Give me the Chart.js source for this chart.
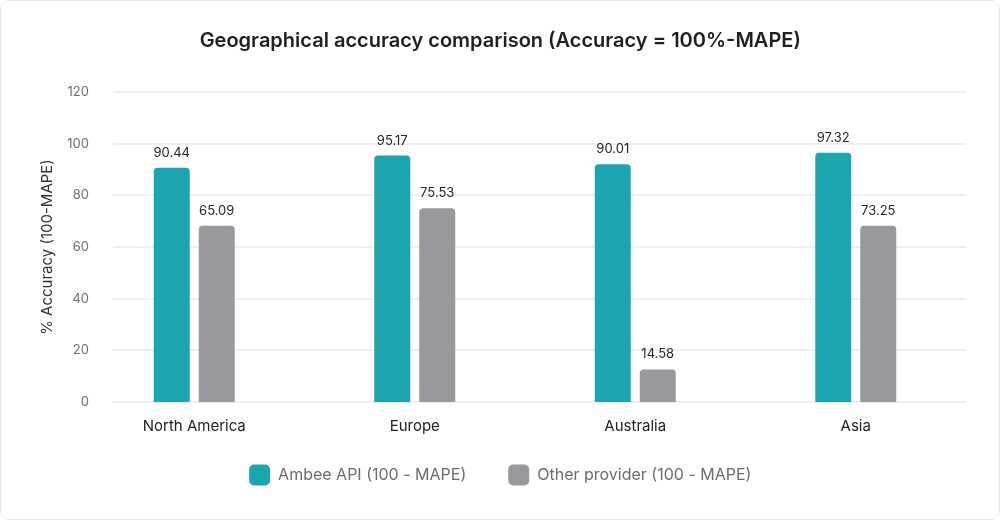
<!DOCTYPE html>
<html>
<head>
<meta charset="utf-8">
<script src="https://cdn.jsdelivr.net/npm/chart.js@4/dist/chart.umd.min.js"></script>
<style>
  html, body { margin: 0; padding: 0; background: #ffffff; }
  #card { position: relative; width: 1000px; height: 520px; box-sizing: border-box;
          border: 1px solid #e6e6e8; border-radius: 10px; background: #fff; overflow: hidden; }
  #wrap { position: absolute; left: 0; top: 0; width: 1000px; height: 520px; }
</style>
</head>
<body>
<div id="card"><div id="wrap"><canvas id="c"></canvas></div></div>
<script>
const chartTitle = 'Geographical accuracy comparison (Accuracy = 100%-MAPE)';
const yAxisTitle = '% Accuracy (100-MAPE)';
const categories = ['North America', 'Europe', 'Australia', 'Asia'];
const seriesNames = ['Ambee API (100 - MAPE)', 'Other provider (100 - MAPE)'];
// bar heights as drawn in the reference
const ambeeValues = [90.7, 95.4, 92.0, 96.5];
const otherValues = [68.2, 75.0, 12.6, 68.2];
// value labels printed above the bars
const ambeeLabels = ['90.44', '95.17', '90.01', '97.32'];
const otherLabels = ['65.09', '75.53', '14.58', '73.25'];
const yMin = 0, yMax = 120, yStep = 20;

const seriesColors = ['#1ba5ae', '#98989d'];
const valueLabels = [ambeeLabels, otherLabels];

const gridPlugin = {
  id: 'softGrid',
  beforeDatasetsDraw(chart) {
    const {ctx, chartArea, scales: {x, y}} = chart;
    ctx.save();
    ctx.strokeStyle = '#efeff1';
    ctx.lineWidth = 2;
    y.ticks.forEach(t => {
      const py = Math.round(y.getPixelForValue(t.value));
      ctx.beginPath();
      ctx.moveTo(chartArea.left + 29, py);
      ctx.lineTo(chartArea.right, py);
      ctx.stroke();
    });
    // y tick labels
    ctx.font = '13px Inter';
    ctx.fillStyle = '#6e6e73';
    ctx.textAlign = 'right';
    ctx.textBaseline = 'middle';
    y.ticks.forEach(t => {
      ctx.fillText(t.label, chartArea.left + 5, y.getPixelForValue(t.value));
    });
    // x tick labels
    ctx.font = '15px Inter';
    ctx.fillStyle = '#222225';
    ctx.textAlign = 'center';
    ctx.textBaseline = 'middle';
    chart.data.labels.forEach((lab, i) => {
      ctx.fillText(lab, x.getPixelForValue(i), chartArea.bottom + 24);
    });
    ctx.restore();
  }
};

const labelPlugin = {
  id: 'valueLabels',
  afterDatasetsDraw(chart) {
    const {ctx} = chart;
    ctx.save();
    ctx.font = '13px Inter';
    ctx.fillStyle = '#262629';
    ctx.textAlign = 'center';
    ctx.textBaseline = 'alphabetic';
    chart.data.datasets.forEach((ds, di) => {
      const meta = chart.getDatasetMeta(di);
      meta.data.forEach((bar, i) => {
        ctx.fillText(valueLabels[di][i], bar.x, bar.y - 11);
      });
    });
    ctx.restore();
  }
};

new Chart(document.getElementById('c'), {
  type: 'bar',
  data: {
    labels: categories,
    datasets: [
      { label: seriesNames[0], data: ambeeValues, backgroundColor: seriesColors[0] },
      { label: seriesNames[1], data: otherValues, backgroundColor: seriesColors[1] }
    ]
  },
  options: {
    responsive: true,
    maintainAspectRatio: false,
    animation: false,
    layout: { padding: { left: 33.5, right: 35, top: 0, bottom: 25.5 } },
    datasets: {
      bar: { barPercentage: 0.8, categoryPercentage: 0.408, borderRadius: 4, borderSkipped: 'start' }
    },
    scales: {
      x: {
        grid: { display: false },
        border: { display: false },
        ticks: { display: false },
        afterFit(scale) { scale.height = 20.5; }
      },
      y: {
        min: yMin, max: yMax,
        grid: { display: false, drawTicks: false },
        border: { display: false },
        ticks: { stepSize: yStep, display: false },
        title: { display: true, text: yAxisTitle, color: '#333336', font: { family: 'Inter', size: 15 } },
        afterFit(scale) { scale.width = 49.5; }
      }
    },
    plugins: {
      title: {
        display: true, text: chartTitle, color: '#1f1f23',
        font: { family: 'Inter', size: 20, weight: '600' },
        padding: { top: 28, bottom: 39 }
      },
      legend: {
        position: 'bottom',
        labels: {
          boxWidth: 21, boxHeight: 21, useBorderRadius: true, borderRadius: 5,
          color: '#6b6b6e', font: { family: 'Inter', size: 16 }, padding: 42
        }
      },
      tooltip: { enabled: false }
    }
  },
  plugins: [gridPlugin, labelPlugin]
});
</script>
</body>
</html>
